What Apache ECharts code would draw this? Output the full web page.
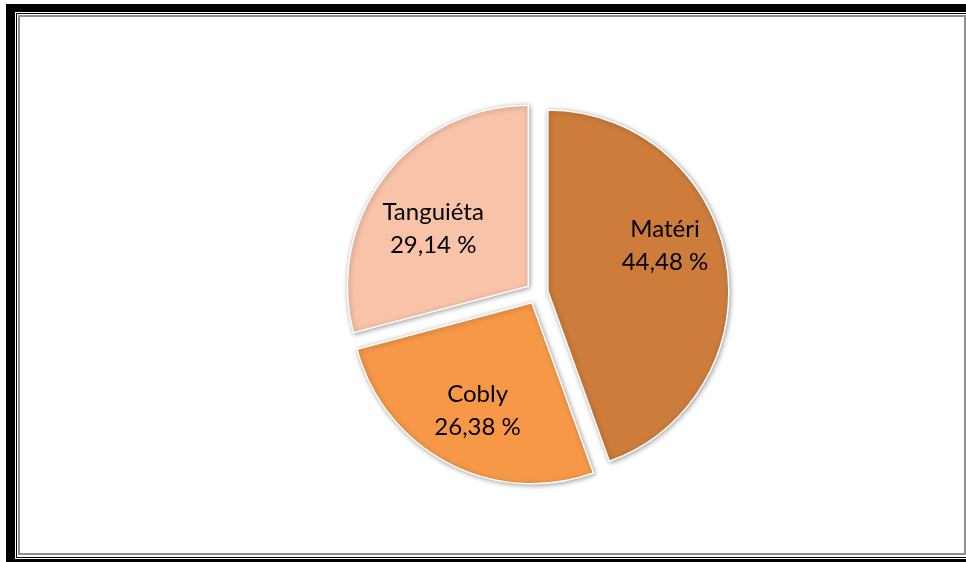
<!DOCTYPE html>
<html>
<head>
<meta charset="utf-8">
<script src="https://cdn.jsdelivr.net/npm/echarts@6/dist/echarts.min.js"></script>
<style>
	html, body {
		margin: 0;
		padding: 0;
		background: #fff;
	}

	#chart {
		width: 966px;
		height: 562px;
	}
</style>
</head>
<body>
<div id="chart"></div>
<script>
// share of each commune, in percent
const regions = ["Matéri", "Cobly", "Tanguiéta"];
const shares = [44.48, 26.38, 29.14];

const sliceColors = ["#cd7c3b", "#f69848", "#f8c3a8"];
// nudge of each inside label from its default spot
const labelNudge = [[25, -29], [-11, 25], [-21, -1]];

const chart = echarts.init(document.getElementById("chart"));

const option = {
	animation: false,
	backgroundColor: "#fff",
	graphic: [
		// thick black frame, top / left / bottom
		{type: "rect", shape: {x: 6, y: 4, width: 980, height: 8}, style: {fill: "#000"}},
		{type: "rect", shape: {x: 6, y: 4, width: 9, height: 570}, style: {fill: "#000"}},
		{type: "rect", shape: {x: 6, y: 559, width: 980, height: 8}, style: {fill: "#000"}},
		// thin black line
		{type: "rect", shape: {x: 16, y: 13, width: 970, height: 1}, style: {fill: "#000"}},
		{type: "rect", shape: {x: 16, y: 13, width: 1, height: 545}, style: {fill: "#000"}},
		{type: "rect", shape: {x: 16, y: 557, width: 970, height: 1}, style: {fill: "#000"}},
		// grey inner line
		{type: "rect", shape: {x: 19, y: 16, width: 946, height: 538}, style: {fill: null, stroke: "#8f8f8f", lineWidth: 2}}
	],
	series: [
		{
			type: "pie",
			center: [537, 293],
			radius: 181,
			startAngle: 90,
			clockwise: true,
			selectedMode: "multiple",
			selectedOffset: 11,
			emphasis: {disabled: true},
			itemStyle: {
				borderColor: "#fff",
				borderWidth: 1.5,
				shadowBlur: 5,
				shadowColor: "rgba(0,0,0,0.35)",
				shadowOffsetX: 1,
				shadowOffsetY: 1
			},
			label: {
				show: true,
				position: "inside",
				color: "#000",
				fontFamily: "Lato",
				fontSize: 24,
				lineHeight: 33,
				formatter: p => p.name + "\n" + p.value.toFixed(2).replace(".", ",") + " %"
			},
			labelLine: {show: false},
			labelLayout: p => ({dx: labelNudge[p.dataIndex][0], dy: labelNudge[p.dataIndex][1]}),
			data: regions.map((name, i) => ({
				name: name,
				value: shares[i],
				selected: true,
				itemStyle: {color: sliceColors[i]}
			}))
		}
	]
};

chart.setOption(option);
</script>
</body>
</html>
